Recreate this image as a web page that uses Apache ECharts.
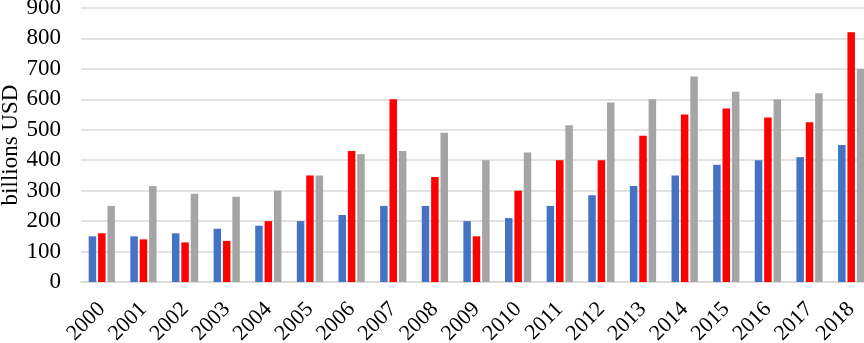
<!DOCTYPE html>
<html>
<head>
<meta charset="utf-8">
<script src="https://cdn.jsdelivr.net/npm/echarts@6/dist/echarts.min.js"></script>
<style>
  html, body { margin: 0; padding: 0; background: #fff; }
  #chart { width: 864px; height: 343px; }
</style>
</head>
<body>
<div id="chart"></div>
<script>
// 数据
var years = ['2000', '2001', '2002', '2003', '2004', '2005', '2006', '2007', '2008', '2009',
    '2010', '2011', '2012', '2013', '2014', '2015', '2016', '2017', '2018'];
var blueValues = [150, 150, 160, 175, 185, 200, 220, 250, 250, 200, 210, 250, 285, 315, 350, 385, 400, 410, 450];
var redValues = [160, 140, 130, 135, 200, 350, 430, 600, 345, 150, 300, 400, 400, 480, 550, 570, 540, 525, 820];
var grayValues = [250, 315, 290, 280, 300, 350, 420, 430, 490, 400, 425, 515, 590, 600, 675, 625, 600, 620, 700];

var font = '"Liberation Serif", "Times New Roman", serif';

var myChart = echarts.init(document.getElementById('chart'));

function bar(values, color) {
    return {
        type: 'bar',
        data: values,
        barWidth: 7.5,
        barGap: '25%',
        itemStyle: { color: color },
        animation: false
    };
}

var option = {
    animation: false,
    grid: { left: 81, right: -8, top: 8, bottom: 61, outerBoundsMode: 'none', containLabel: false },
    xAxis: {
        type: 'category',
        data: years,
        axisLine: { show: true, lineStyle: { color: '#d9d9d9', width: 1.5 } },
        axisTick: { show: false },
        axisLabel: {
            rotate: 45,
            interval: 0,
            margin: 24,
            color: '#000',
            fontFamily: font,
            fontSize: 22
        }
    },
    yAxis: {
        type: 'value',
        min: 0,
        max: 900,
        interval: 100,
        name: 'billions USD',
        nameLocation: 'middle',
        nameGap: 59,
        nameMoveOverlap: false,
        nameTextStyle: { color: '#000', fontFamily: font, fontSize: 23 },
        axisLine: { show: false },
        axisTick: { show: false },
        axisLabel: { color: '#000', fontFamily: font, fontSize: 23, margin: 20 },
        splitLine: { lineStyle: { color: '#d9d9d9', width: 1.5 } }
    },
    series: [
        bar(blueValues, '#4472c4'),
        bar(redValues, '#ff0000'),
        bar(grayValues, '#a5a5a5')
    ]
};

myChart.setOption(option);
</script>
</body>
</html>
